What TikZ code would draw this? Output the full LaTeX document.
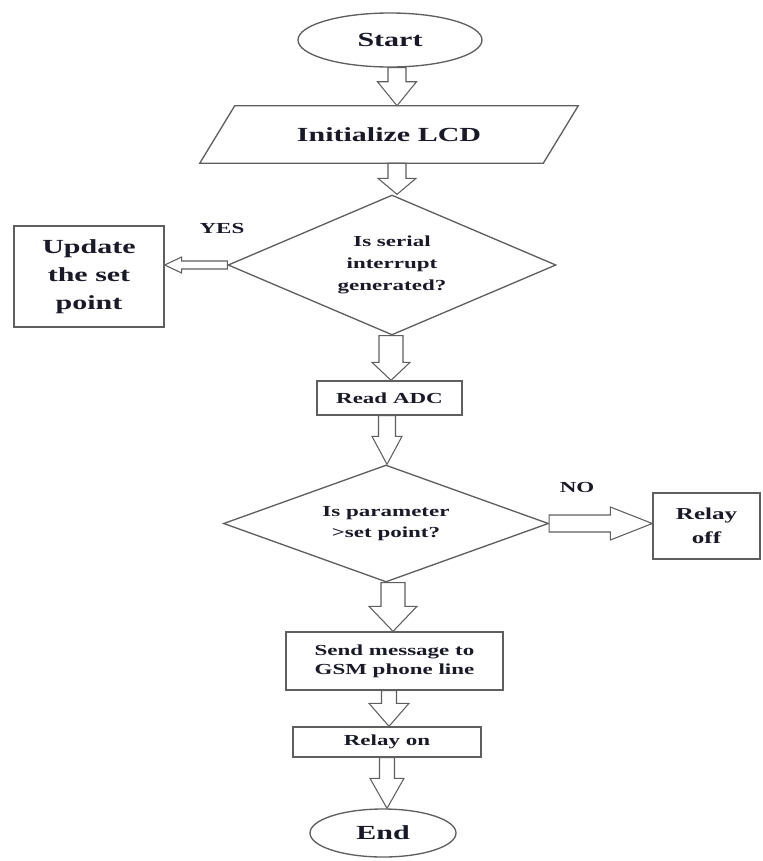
\documentclass[tikz,border=0pt]{standalone}
\usepackage{fontspec}
\setmainfont{Liberation Serif}[FakeStretch=1.5]
\usetikzlibrary{shapes.geometric,calc}
\definecolor{linegray}{RGB}{95,95,95}
\definecolor{txtcol}{RGB}{25,25,40}
% vertical block arrow: src, dst, shaft half width, head half width, head length, x shift (px)
\newcommand\vblock[6]{%
  \draw[blockarrow] let \p1=(#1), \p2=(#2) in
    ({\x2+(#6)*0.75pt-(#3)*0.75pt},\y1) --
    ({\x2+(#6)*0.75pt-(#3)*0.75pt},{\y2+(#5)*0.75pt}) --
    ({\x2+(#6)*0.75pt-(#4)*0.75pt},{\y2+(#5)*0.75pt}) --
    ({\x2+(#6)*0.75pt},\y2) --
    ({\x2+(#6)*0.75pt+(#4)*0.75pt},{\y2+(#5)*0.75pt}) --
    ({\x2+(#6)*0.75pt+(#3)*0.75pt},{\y2+(#5)*0.75pt}) --
    ({\x2+(#6)*0.75pt+(#3)*0.75pt},\y1) -- cycle;}
% horizontal block arrow: src, dst, shaft half width, head half width, signed head length (px)
\newcommand\hblock[5]{%
  \draw[blockarrow] let \p1=(#1), \p2=(#2) in
    (\x1,{\y1+(#3)*0.75pt}) --
    ({\x2-(#5)*0.75pt},{\y1+(#3)*0.75pt}) --
    ({\x2-(#5)*0.75pt},{\y1+(#4)*0.75pt}) --
    (\x2,\y1) --
    ({\x2-(#5)*0.75pt},{\y1-(#4)*0.75pt}) --
    ({\x2-(#5)*0.75pt},{\y1-(#3)*0.75pt}) --
    (\x1,{\y1-(#3)*0.75pt}) -- cycle;}
\begin{document}
\begin{tikzpicture}[x=0.75pt,y=-0.75pt,
  outline/.style={draw=linegray, line width=1pt},
  txt/.style={text=txtcol, align=center, inner sep=0pt},
  bigfont/.style={font=\bfseries\fontsize{15}{21}\selectfont},
  smallfont/.style={font=\bfseries\fontsize{11.5}{14}\selectfont},
  box/.style={outline, txt, rectangle},
  decision/.style={outline, txt, diamond, smallfont},
  terminal/.style={outline, txt, ellipse, bigfont},
  blockarrow/.style={draw=linegray, fill=white, line width=0.8pt, line join=miter},
  lbl/.style={txt, smallfont}]
\useasboundingbox (0,0) rectangle (763,861);

\node[terminal, minimum width=138pt, minimum height=40.5pt] (start) at (390,40) {Start};

\node[txt, bigfont, minimum width=283.5pt, minimum height=42.75pt] (init) at (389,134.5) {Initialize LCD};
\draw[outline] (init.south west) -- ($(init.north west)+(35,0)$) -- (init.north east)
  -- ($(init.south east)+(-35,0)$) -- cycle;

\node[decision, shape aspect=2.34, minimum width=246pt, minimum height=105pt,
  font=\bfseries\fontsize{11.5}{16.5}\selectfont] (d1) at (392,265)
  {Is serial\\interrupt\\generated?};

\node[box, bigfont, minimum width=112.5pt, minimum height=75.75pt] (update) at (89,276.5)
  {Update\\the set\\point};

\node[lbl] (yes) at (222,228) {YES};

\node[box, smallfont, minimum width=108.75pt, minimum height=25.5pt] (readadc) at (389.5,398) {Read ADC};

\node[decision, shape aspect=2.78, minimum width=243.75pt, minimum height=87.75pt,
  font=\bfseries\fontsize{11.5}{15.75}\selectfont] (d2) at (386,523.5)
  {Is parameter\\>set point?};

\node[lbl] (no) at (577,487) {NO};

\node[box, font=\bfseries\fontsize{12.5}{18}\selectfont, minimum width=80.25pt, minimum height=49.5pt]
  (relayoff) at (706.5,526) {Relay\\off};

\node[box, font=\bfseries\fontsize{11.5}{14}\selectfont, minimum width=162.75pt, minimum height=43.5pt]
  (send) at (394.5,661) {Send message to\\GSM phone line};

\node[box, smallfont, minimum width=141pt, minimum height=22.5pt] (relayon) at (387,742) {Relay on};

\node[terminal, minimum width=109.5pt, minimum height=36pt] (end) at (383,833) {End};

\vblock{start.south}{init.north}{9}{19.5}{24}{8}
\vblock{init.south}{d1.north}{9}{19}{16}{5}
\vblock{d1.south}{readadc.north}{12}{19}{18}{1.5}
\vblock{readadc.south}{d2.north}{8.5}{15}{28}{1}
\vblock{d2.south}{send.north}{12}{24}{25}{-1.5}
\vblock{send.south}{relayon.north}{7.5}{20}{23}{2}
\vblock{relayon.south}{end.north}{7.5}{17}{30}{4}
\hblock{d1.west}{update.east}{4}{8}{-17}
\hblock{d2.east}{relayoff.west}{8.5}{16.5}{42}
\end{tikzpicture}
\end{document}
